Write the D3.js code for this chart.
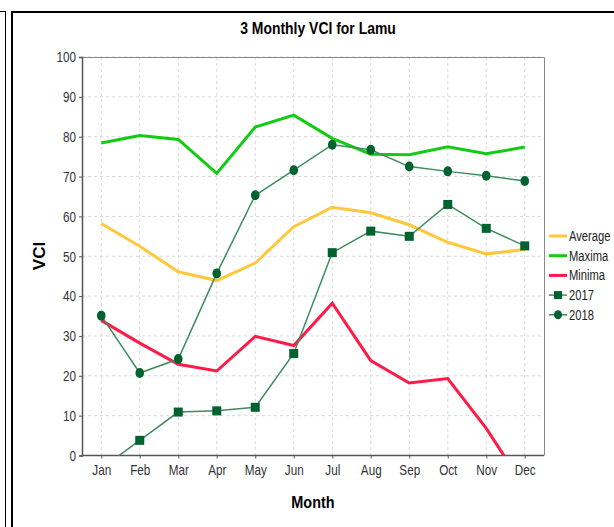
<html>
<head>
<script src="https://d3js.org/d3.v7.min.js"></script>
<style>
body { margin: 0; background: #fff; }
text { font-family: "Liberation Sans", Arial, sans-serif; }
</style>
</head>
<body>
<svg id="main_vis" width="614" height="527"></svg>
<script>

// ---- data ----
var months = ["Jan","Feb","Mar","Apr","May","Jun","Jul","Aug","Sep","Oct","Nov","Dec"];
var yTicks = [0,10,20,30,40,50,60,70,80,90,100];

var average = [58.2, 52.5, 46.1, 43.9, 48.3, 57.4, 62.3, 60.9, 57.9, 53.5, 50.6, 51.7];
var maxima  = [78.4, 80.3, 79.3, 70.8, 82.4, 85.4, 79.6, 75.6, 75.5, 77.5, 75.7, 77.4];
var minima  = [33.9, 28.2, 22.9, 21.2, 29.9, 27.6, 38.2, 23.8, 18.2, 19.3, 6.8, -8];
var y2017   = [-3.3, 3.8, 10.9, 11.2, 12.1, 25.6, 50.9, 56.3, 55.0, 63.0, 57.0, 52.6];
var y2018   = [35.1, 20.7, 24.2, 45.7, 65.3, 71.6, 78.0, 76.7, 72.5, 71.3, 70.2, 68.9];

var svg = d3.select("#main_vis");

// squeeze text horizontally, the reference font is narrow
function narrow(sel, k) {
  sel.each(function() {
    var w = this.getComputedTextLength();
    d3.select(this).attr("textLength", w * k).attr("lengthAdjust", "spacingAndGlyphs");
  });
}

// frame lines
svg.append("line").attr("x1", 5.5).attr("y1", 11).attr("x2", 5.5).attr("y2", 527).attr("stroke", "#000");
svg.append("line").attr("x1", 0).attr("y1", 11.5).attr("x2", 5).attr("y2", 11.5).attr("stroke", "#000");
svg.append("rect").attr("x", 12).attr("y", 12).attr("width", 620).attr("height", 540)
  .attr("fill", "none").attr("stroke", "#000").attr("stroke-width", 2);

var pLeft = 82, pRight = 544, pTop = 57, pBottom = 455.5;

var x = d3.scalePoint().domain(months).range([pLeft, pRight]).padding(0.5);
var y = d3.scaleLinear().domain([0, 100]).range([pBottom, pTop]);

// grid
svg.append("g").selectAll("line").data(yTicks.slice(1)).enter().append("line")
  .attr("x1", pLeft).attr("x2", pRight)
  .attr("y1", function(d) { return y(d) }).attr("y2", function(d) { return y(d) })
  .attr("stroke", "#d8d8d8").attr("stroke-dasharray", "3,3");
svg.append("g").selectAll("line").data(months).enter().append("line")
  .attr("x1", function(d) { return x(d) }).attr("x2", function(d) { return x(d) })
  .attr("y1", pTop).attr("y2", pBottom)
  .attr("stroke", "#d8d8d8").attr("stroke-dasharray", "3,3");

// plot border top / right
svg.append("path").attr("d", "M" + pLeft + "," + (pTop + 0.5) + "H" + (pRight + 0.5) + "V" + pBottom)
  .attr("fill", "none").attr("stroke", "#888");

// axes
var yAxis = svg.append("g").attr("transform", "translate(" + pLeft + ",0)")
  .call(d3.axisLeft(y).tickValues(yTicks).tickSize(3).tickPadding(3));
var xAxis = svg.append("g").attr("transform", "translate(0," + pBottom + ")")
  .call(d3.axisBottom(x).tickSize(3).tickPadding(6));
[yAxis, xAxis].forEach(function(a) {
  a.select(".domain").attr("stroke", "#555").attr("stroke-width", 1.5);
  a.selectAll(".tick line").attr("stroke", "#555");
  a.selectAll("text").attr("font-size", 15).attr("fill", "#333");
  narrow(a.selectAll("text"), 0.78);
});
xAxis.select(".domain").attr("d", "M" + pLeft + ",0H" + pRight);

// clip
svg.append("clipPath").attr("id", "clip").append("rect")
  .attr("x", pLeft).attr("y", pTop).attr("width", pRight - pLeft).attr("height", pBottom - pTop);
var plot = svg.append("g").attr("clip-path", "url(#clip)");

var line = d3.line().x(function(d, i) { return x(months[i]) }).y(function(d) { return y(d) });

var thick = [
  { name: "Average", data: average, color: "#ffc73a" },
  { name: "Maxima", data: maxima, color: "#12cc12" },
  { name: "Minima", data: minima, color: "#ff1a48" }
];
thick.forEach(function(s) {
  plot.append("path").datum(s.data).attr("fill", "none")
    .attr("stroke", s.color).attr("stroke-width", 3).attr("d", line);
});

var lineGreen = "#3d8c5f", markGreen = "#00622f";
[y2017, y2018].forEach(function(s) {
  plot.append("path").datum(s).attr("fill", "none")
    .attr("stroke", lineGreen).attr("stroke-width", 1.5).attr("d", line);
});
plot.selectAll(".sq").data(y2017).enter().append("rect")
  .attr("x", function(d, i) { return x(months[i]) - 4.5 })
  .attr("y", function(d) { return y(d) - 4.5 })
  .attr("width", 9).attr("height", 9).attr("fill", markGreen);
plot.selectAll(".ci").data(y2018).enter().append("ellipse")
  .attr("cx", function(d, i) { return x(months[i]) })
  .attr("cy", function(d) { return y(d) })
  .attr("rx", 4.3).attr("ry", 5).attr("fill", markGreen);

// titles
var t = svg.append("text").attr("x", 318).attr("y", 34).attr("text-anchor", "middle")
  .attr("font-size", 17).attr("font-weight", "bold").text("3 Monthly VCI for Lamu");
narrow(t, 0.82);
var mt = svg.append("text").attr("x", 313).attr("y", 508).attr("text-anchor", "middle")
  .attr("font-size", 17).attr("font-weight", "bold").text("Month");
narrow(mt, 0.85);
var vt = svg.append("text").attr("transform", "translate(45,256) rotate(-90)").attr("text-anchor", "middle")
  .attr("font-size", 17).attr("font-weight", "bold").text("VCI");

// legend
var legend = [
  { name: "Average", color: "#ffc73a", mark: null },
  { name: "Maxima", color: "#12cc12", mark: null },
  { name: "Minima", color: "#ff1a48", mark: null },
  { name: "2017", color: lineGreen, mark: "sq" },
  { name: "2018", color: lineGreen, mark: "ci" }
];
var lg = svg.append("g").selectAll("g").data(legend).enter().append("g")
  .attr("transform", function(d, i) { return "translate(549," + (236 + i * 19.7) + ")" });
lg.append("line").attr("x1", 0).attr("x2", 18)
  .attr("stroke", function(d) { return d.color })
  .attr("stroke-width", function(d) { return d.mark ? 1.5 : 3 });
lg.filter(function(d) { return d.mark == "sq" }).append("rect")
  .attr("x", 5).attr("y", -4).attr("width", 8).attr("height", 8).attr("fill", markGreen);
lg.filter(function(d) { return d.mark == "ci" }).append("ellipse")
  .attr("cx", 9).attr("cy", 0).attr("rx", 4).attr("ry", 4.5).attr("fill", markGreen);
var lt = lg.append("text").attr("x", 20).attr("y", 5).attr("font-size", 14).attr("fill", "#222")
  .text(function(d) { return d.name });
narrow(lt, 0.8);

</script>
</body>
</html>
